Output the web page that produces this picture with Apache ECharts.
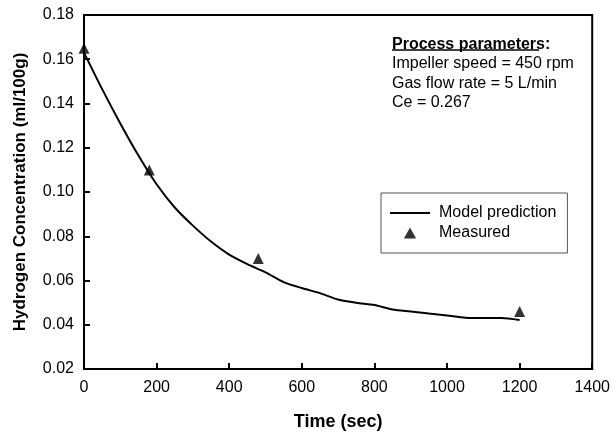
<!DOCTYPE html>
<html>
<head>
<meta charset="utf-8">
<script src="https://cdn.jsdelivr.net/npm/echarts@6/dist/echarts.min.js"></script>
<style>
html,body{margin:0;padding:0;background:#fff;}
#chart{width:613px;height:436px;}
</style>
</head>
<body>
<div id="chart"></div>
<script>
// model curve (every 50 s)
var modelTime = [0, 50, 100, 150, 200, 250, 300, 350, 400, 450, 500, 550, 600, 650, 700, 750, 800, 850, 900, 950, 1000, 1050, 1100, 1150, 1200];
var modelConc = [0.163, 0.1465, 0.131, 0.1165, 0.1035, 0.0930, 0.0848, 0.0776, 0.0717, 0.0674, 0.0637, 0.0593, 0.0566, 0.0543, 0.0514, 0.0499, 0.0489, 0.0469, 0.0460, 0.0451, 0.0442, 0.0432, 0.0430, 0.0430, 0.0421];
// measured points
var measTime = [0, 180, 480, 1200];
var measConc = [0.165, 0.110, 0.070, 0.046];

var paramLines = ['Impeller speed = 450 rpm', 'Gas flow rate = 5 L/min', 'Ce = 0.267'];

function pairs(xs, ys){
	var out = [];
	for (var i = 0; i < xs.length; i++) out.push([xs[i], ys[i]]);
	return out;
}

var chart = echarts.init(document.getElementById('chart'));
var font = 'Liberation Sans, Arial, sans-serif';

var graphics = [
	{type:'text', left:392, top:37, style:{text:'Process parameters:', font:'bold 16px ' + font, fill:'#000'}},
	{type:'line', shape:{x1:392, y1:50, x2:539, y2:50}, style:{stroke:'#000', lineWidth:1.5}}
];
for (var i = 0; i < paramLines.length; i++) {
	graphics.push({type:'text', left:392, top:56 + i * 19.5, style:{text:paramLines[i], font:'16px ' + font, fill:'#000'}});
}

var option = {
	animation: false,
	backgroundColor: '#fff',
	grid: {
		left: 84, right: 18, top: 15, bottom: 66,
		show: true, borderColor: '#000', borderWidth: 2
	},
	legend: {
		orient: 'vertical',
		left: 381, top: 193,
		padding: [12, 11, 12, 9],
		borderColor: '#555', borderWidth: 1,
		itemWidth: 40, itemHeight: 11, itemGap: 4,
		textStyle: {fontFamily: font, fontSize: 16, color: '#000', padding: [0, 0, 0, 4]},
		data: [
			{name: 'Model prediction', icon: 'path://M0,0L40,0L40,2L0,2Z'},
			{name: 'Measured', icon: 'path://M5,0L10,9L0,9Z'}
		]
	},
	xAxis: {
		type: 'value', min: 0, max: 1400, interval: 200,
		name: 'Time (sec)', nameLocation: 'middle', nameGap: 44,
		nameTextStyle: {fontFamily: font, fontSize: 18, fontWeight: 'bold', color: '#000'},
		axisLine: {lineStyle: {color: '#000', width: 2}},
		axisTick: {inside: true, length: 6, lineStyle: {color: '#000', width: 2}},
		axisLabel: {fontFamily: font, fontSize: 16, color: '#000', margin: 11,
			formatter: function(v){ return String(v); }},
		splitLine: {show: false}
	},
	yAxis: {
		type: 'value', min: 0.02, max: 0.18, interval: 0.02,
		name: 'Hydrogen Concentration (ml/100g)', nameLocation: 'middle', nameGap: 55,
		nameTextStyle: {fontFamily: font, fontSize: 17, fontWeight: 'bold', color: '#000'},
		axisLine: {lineStyle: {color: '#000', width: 2}},
		axisTick: {inside: true, length: 6, lineStyle: {color: '#000', width: 2}},
		axisLabel: {fontFamily: font, fontSize: 16, color: '#000', margin: 10,
			formatter: function(v){ return v.toFixed(2); }},
		splitLine: {show: false}
	},
	series: [
		{
			name: 'Model prediction',
			type: 'line',
			data: pairs(modelTime, modelConc),
			smooth: 0.25,
			symbol: 'none',
			lineStyle: {color: '#000', width: 2},
			itemStyle: {color: '#000'}
		},
		{
			name: 'Measured',
			type: 'scatter',
			data: pairs(measTime, measConc),
			symbol: 'triangle',
			symbolSize: 11,
			itemStyle: {color: '#000'}
		}
	],
	graphic: graphics
};
chart.setOption(option);
</script>
</body>
</html>
